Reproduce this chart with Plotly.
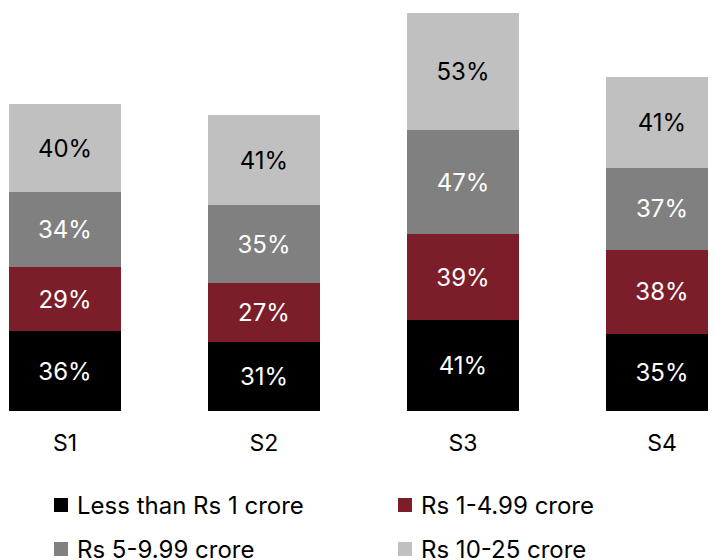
import plotly.graph_objects as go

categories = ["S1", "S2", "S3", "S4"]
series_names = ["Less than Rs 1 crore", "Rs 1-4.99 crore", "Rs 5-9.99 crore", "Rs 10-25 crore"]
less_than_1 = [36, 31, 41, 35]
rs_1_499 = [29, 27, 39, 38]
rs_5_999 = [34, 35, 47, 37]
rs_10_25 = [40, 41, 53, 41]

series_values = [less_than_1, rs_1_499, rs_5_999, rs_10_25]
colors = ["#000000", "#7B1E2A", "#808080", "#C0C0C0"]
text_colors = ["#FFFFFF", "#FFFFFF", "#FFFFFF", "#000000"]

FONT = "Inter"
W, H = 716, 560
B = 157                      # bottom margin
PH = H - B                   # plot height in px

fig = go.Figure()
for name, vals, col, tcol in zip(series_names, series_values, colors, text_colors):
    fig.add_trace(go.Bar(
        x=categories, y=vals, name=name,
        marker=dict(color=col, line=dict(width=0)),
        text=[f"{v}%" for v in vals],
        textposition="inside", insidetextanchor="middle",
        textfont=dict(family=FONT, size=24, color=tcol),
        width=0.565, showlegend=False,
    ))

# Manual legend (2 x 2 grid)
leg_pos = [(46, 497), (390, 497), (46, 541), (390, 541)]
for (px, py), name, col in zip(leg_pos, series_names, colors):
    fig.add_shape(type="rect", xref="paper", yref="paper",
                  x0=px / W, x1=(px + 14) / W,
                  y0=1 - (py + 7) / PH, y1=1 - (py - 7) / PH,
                  fillcolor=col, line=dict(width=0))
    fig.add_annotation(xref="paper", yref="paper", x=(px + 21) / W,
                       y=1 - py / PH, text=name, showarrow=False,
                       xanchor="left", yanchor="middle",
                       font=dict(family=FONT, size=24, color="#000000"))

fig.update_layout(
    barmode="stack",
    width=W, height=H,
    margin=dict(l=0, r=0, t=0, b=B, autoexpand=False),
    plot_bgcolor="white", paper_bgcolor="white",
    font=dict(family=FONT, size=23, color="#000000"),
    uniformtext=dict(mode="show", minsize=24),
    xaxis=dict(range=[-0.2864, -0.2864 + W / 199.0], showgrid=False, showline=False,
               zeroline=False, ticks="", tickfont=dict(size=23, family=FONT),
               ticklabelstandoff=16, automargin=False),
    yaxis=dict(range=[0, PH / 2.21], visible=False, automargin=False),
    showlegend=False,
)

fig.write_html("out.html")
